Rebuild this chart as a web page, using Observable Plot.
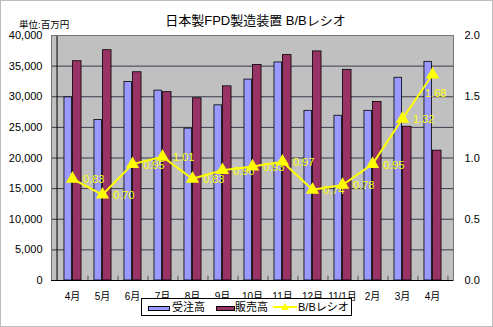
<!DOCTYPE html>
<html>
<head>
<meta charset="utf-8">
<script src="https://cdn.jsdelivr.net/npm/d3@7"></script>
<script src="https://cdn.jsdelivr.net/npm/@observablehq/plot@0.6"></script>
<style>
  body { margin: 0; background: #fff; }
  #wrap { position: relative; width: 493px; height: 327px; font-family: "Liberation Sans", "Noto Sans CJK JP", sans-serif; }
  #wrap svg { position: absolute; left: 0; top: 0; }
  .abs { position: absolute; white-space: nowrap; color: #000; }
  #border { position: absolute; left: 0; top: 0; width: 491px; height: 325px; border: 1px solid #bdbdbd; pointer-events: none; }
  #legend { position: absolute; left: 141px; top: 298px; width: 209px; height: 16px; border: 1px solid #000; background: #fff; font-size: 11px; }
  .sw { position: absolute; top: 7px; height: 3px; border: 1px solid #000; }
  .lt { position: absolute; top: 1px; line-height: 14px; }
</style>
</head>
<body>
<div id="wrap"></div>
<script>
const months = ["4月","5月","6月","7月","8月","9月","10月","11月","12月","11/1月","2月","3月","4月 "];
const monthLabels = ["4月","5月","6月","7月","8月","9月","10月","11月","12月","11/1月","2月","3月","4月"];
const orders = [29900, 26200, 32400, 31000, 24800, 28600, 32800, 35600, 27700, 26900, 27700, 33100, 35700];
const sales  = [35800, 37600, 34000, 30750, 29750, 31700, 35200, 36800, 37400, 34400, 29150, 25100, 21200];
const ratio  = [0.83, 0.70, 0.95, 1.01, 0.83, 0.90, 0.93, 0.97, 0.74, 0.78, 0.95, 1.32, 1.68];
const ratioLabels = ["0.83","0.70","0.95","1.01","0.83","0.90","0.93","0.97","0.74","0.78","0.95","1.32","1.68"];
const leftTicks = [0, 5000, 10000, 15000, 20000, 25000, 30000, 35000, 40000];
const gridTicks = [5000, 10000, 15000, 20000, 25000, 30000, 35000];
const rightTicks = [0, 0.5, 1.0, 1.5, 2.0];
const ratioScale = 20000; // 2.0 on right axis == 40,000 on left axis

const rows = months.map((m, i) => ({month: m, label: monthLabels[i], orders: orders[i], sales: sales[i], ratio: ratio[i], rl: ratioLabels[i], y2: ratio[i] * ratioScale, last: i === months.length - 1}));

const W = 493, H = 327, ML = 51, MR = 40, MT = 35, MB = 47;
const bw = (W - ML - MR) / months.length;
const half = bw / 2;

const chart = Plot.plot({
  width: W, height: H,
  marginLeft: ML, marginRight: MR, marginTop: MT, marginBottom: MB,
  style: {fontFamily: '"Liberation Sans", "Noto Sans CJK JP", sans-serif', fontSize: "11px", background: "transparent", color: "#000"},
  x: {type: "band", domain: months, padding: 0, axis: null, label: null},
  y: {domain: [0, 40000], axis: null, label: null},
  marks: [
    Plot.frame({fill: "#c0c0c0"}),
    Plot.ruleY(gridTicks, {stroke: "#3a3a4a", strokeWidth: 1}),
    Plot.ruleX(months, {x: d => d, dx: half, y1: 0, y2: 700, stroke: "#555"}),
    Plot.barY(rows, {x: "month", y: "orders", fill: "#9999ff", stroke: "#000", strokeWidth: 0.8, insetLeft: half - 8.5, insetRight: half}),
    Plot.barY(rows, {x: "month", y: "sales", fill: "#993366", stroke: "#000", strokeWidth: 0.8, insetLeft: half, insetRight: half - 9.5}),
    Plot.ruleX([months[0]], {x: d => d, dx: -half, stroke: "#000", strokeWidth: 1}),
    Plot.frame({stroke: "#777", strokeWidth: 1}),
    Plot.ruleY([0], {stroke: "#000", strokeWidth: 1.2}),
    Plot.line(rows, {x: "month", y: "y2", stroke: "#ffff00", strokeWidth: 2}),
    Plot.dot(rows, {x: "month", y: "y2", symbol: "triangle", r: 4, fill: "#ffff00", stroke: "#ffff00"}),
    Plot.text(rows.filter(d => !d.last), {x: "month", y: "y2", text: "rl", dx: 10.5, dy: 1, textAnchor: "start", fill: "#ffff00", fontSize: 11}),
    Plot.text(rows.filter(d => d.last), {x: "month", y: "y2", text: "rl", dx: -7.5, dy: 19, textAnchor: "start", fill: "#ffff00", fontSize: 11}),
    Plot.axisY({ticks: leftTicks, tickFormat: d3.format(","), tickSize: 0, tickPadding: 9, fontSize: 11, label: null}),
    Plot.axisY({anchor: "right", ticks: rightTicks.map(r => r * ratioScale), tickFormat: d => (d / ratioScale).toFixed(1), tickSize: 0, tickPadding: 11, fontSize: 11, label: null}),
    Plot.axisX({tickSize: 0, tickPadding: 12, fontSize: 10, label: null, tickFormat: d => monthLabels[months.indexOf(d)]})
  ]
});

const wrap = document.getElementById("wrap");
wrap.appendChild(chart);
wrap.insertAdjacentHTML("beforeend", `
  <div class="abs" style="left:0;width:493px;top:10px;text-align:center;font-size:13px;padding-left:18px;box-sizing:border-box;">日本製FPD製造装置 B/Bレシオ</div>
  <div class="abs" style="left:19px;top:17px;font-size:9.5px;">単位:百万円</div>
  <div id="legend">
    <div class="sw" style="left:6px;width:20px;background:#9999ff;"></div>
    <div class="lt" style="left:30px;">受注高</div>
    <div class="sw" style="left:74px;width:17px;background:#993366;"></div>
    <div class="lt" style="left:93px;">販売高</div>
    <svg style="position:absolute;left:131px;top:3px;" width="24" height="10"><line x1="0" y1="5" x2="24" y2="5" stroke="#ffff00" stroke-width="2"/><path d="M12,1 L16,8 L8,8 Z" fill="#ffff00"/></svg>
    <div class="lt" style="left:156px;">B/Bレシオ</div>
  </div>
  <div id="border"></div>
`);
</script>
</body>
</html>
